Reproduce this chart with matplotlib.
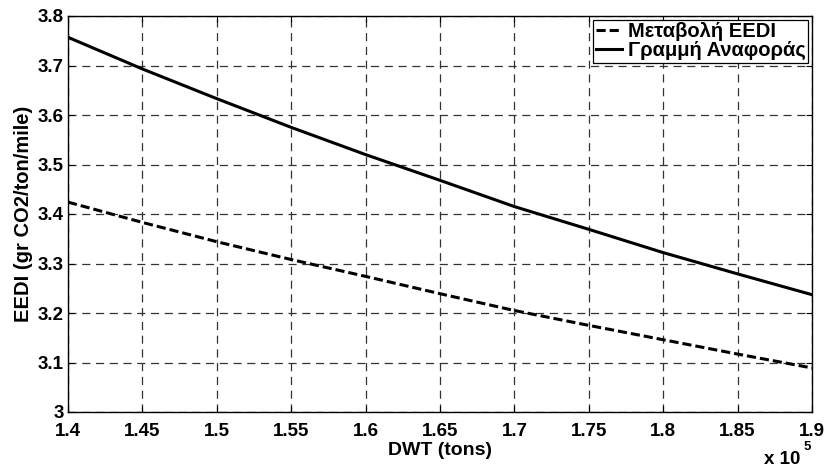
import numpy as np
import matplotlib.pyplot as plt

plt.rcParams['font.family'] = ['Liberation Sans', 'DejaVu Sans']
plt.rcParams['font.weight'] = 'bold'

# DWT in units of 1e5 tons
dwt = [1.40, 1.45, 1.50, 1.55, 1.60, 1.65, 1.70, 1.75, 1.80, 1.85, 1.90]
eedi_change = [3.424, 3.383, 3.344, 3.308, 3.274, 3.239, 3.205, 3.175, 3.146, 3.117, 3.089]
eedi_ref = [3.757, 3.693, 3.633, 3.575, 3.520, 3.468, 3.415, 3.369, 3.322, 3.279, 3.237]

x_ticks = [1.4, 1.45, 1.5, 1.55, 1.6, 1.65, 1.7, 1.75, 1.8, 1.85, 1.9]
x_ticklabels = ['1.4', '1.45', '1.5', '1.55', '1.6', '1.65', '1.7', '1.75', '1.8', '1.85', '1.9']
y_ticks = [3.0, 3.1, 3.2, 3.3, 3.4, 3.5, 3.6, 3.7, 3.8]
y_ticklabels = ['3', '3.1', '3.2', '3.3', '3.4', '3.5', '3.6', '3.7', '3.8']

fig = plt.figure(figsize=(8.28, 4.70), dpi=100)
ax = fig.add_axes([68/828, 1 - 412/470, 744/828, 396/470])

ax.plot(dwt, eedi_change, color='black', linewidth=2.2, linestyle=(0, (3, 1.3)),
        label='Μεταβολή EEDI')
ax.plot(dwt, eedi_ref, color='black', linewidth=2.2, label='Γραμμή Αναφοράς')

ax.set_xlim(1.4, 1.9)
ax.set_ylim(3.0, 3.8)
ax.set_xticks(x_ticks)
ax.set_xticklabels(x_ticklabels)
ax.set_yticks(y_ticks)
ax.set_yticklabels(y_ticklabels)

ax.grid(True, color='0.2', linewidth=0.9, linestyle=(0, (6.5, 4.5)))
ax.tick_params(direction='in', top=True, right=True, length=4, width=0.8,
               labelsize=13.5)
ax.tick_params(axis='x', pad=8)
ax.tick_params(axis='y', pad=3)
for s in ax.spines.values():
    s.set_linewidth(1.0)

ax.set_xlabel('DWT (tons)', fontsize=14, fontweight='bold')
ax.set_ylabel('EEDI (gr CO2/ton/mile)', fontsize=14.5, fontweight='bold')
ax.xaxis.set_label_coords(0.5, -0.076)
ax.yaxis.set_label_coords(-0.047, 0.50)

fig.text(764/828, 1 - 464/470, 'x 10', fontsize=13.5, fontweight='bold', ha='left', va='baseline')
fig.text(804/828, 1 - 450/470, '5', fontsize=9.5, fontweight='bold', ha='left', va='baseline')

leg = ax.legend(loc='upper right', prop={'weight': 'bold', 'size': 14.5},
                handlelength=1.3, handletextpad=0.3, labelspacing=0.0,
                borderpad=0.12, borderaxespad=0.2, fancybox=False, framealpha=1)
leg.get_frame().set_edgecolor('black')
leg.get_frame().set_linewidth(0.9)

fig.savefig('out.png', dpi=100)
